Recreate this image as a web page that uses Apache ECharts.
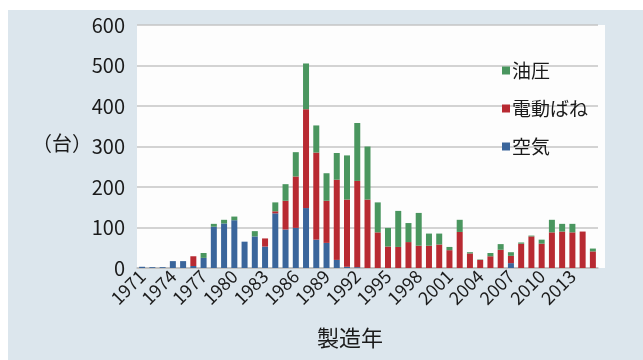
<!DOCTYPE html>
<html>
<head>
<meta charset="utf-8">
<script src="https://cdn.jsdelivr.net/npm/echarts@6/dist/echarts.min.js"></script>
<style>
  html, body { margin: 0; padding: 0; background: #fff; }
  #main { width: 643px; height: 360px; }
</style>
</head>
<body>
<div id="main"></div>
<script>
// 製造年 1971〜2015
const years = []
for (let y = 1971; y <= 2015; y++) years.push(String(y))

// 空気
const airData = [3, 2, 2, 17, 17, 5, 25, 102, 110, 118, 65, 78, 53, 135, 95, 99, 148, 70, 62, 20, 3, 2, 0, 0, 0, 0, 0, 0, 0, 0, 0, 0, 0, 0, 0, 0, 12, 0, 0, 0, 0, 0, 0, 0, 0]
// 電動ばね
const springData = [0, 0, 0, 0, 0, 24, 0, 0, 0, 0, 0, 0, 20, 5, 71, 127, 244, 215, 104, 198, 166, 213, 169, 88, 53, 52, 64, 55, 55, 58, 44, 89, 36, 20, 29, 45, 18, 60, 78, 60, 88, 90, 88, 90, 41]
// 油圧
const hydroData = [0, 0, 0, 0, 0, 0, 12, 7, 9, 9, 0, 13, 0, 22, 41, 60, 113, 67, 68, 66, 109, 143, 131, 74, 46, 89, 47, 81, 30, 27, 8, 30, 3, 1, 8, 14, 9, 3, 2, 10, 31, 19, 21, 0, 7]

const colors = { air: '#3a659b', spring: '#b82a32', hydro: '#4a965f' }
const fontFamily = '"Noto Sans CJK JP", "Noto Sans", sans-serif'

const myChart = echarts.init(document.getElementById('main'))

const option = {
  backgroundColor: '#ffffff',
  animation: false,
  textStyle: { fontFamily: fontFamily },
  graphic: [
    {
      type: 'rect',
      z: -100,
      silent: true,
      shape: { x: 8, y: 10, width: 640, height: 355 },
      style: { fill: '#dce6ed' }
    },
    {
      type: 'rect',
      z: -90,
      silent: true,
      shape: { x: 137, y: 25, width: 468, height: 243 },
      style: { fill: '#fdfdfd' }
    },
    {
      type: 'text',
      left: 32,
      top: 133,
      style: { text: '（台）', fontSize: 20, fill: '#1a1a1a', fontFamily: fontFamily }
    },
    {
      type: 'text',
      left: 317,
      top: 327,
      style: { text: '製造年', fontSize: 22, fill: '#1a1a1a', fontFamily: fontFamily }
    }
  ],
  legend: {
    orient: 'vertical',
    left: 497,
    top: 56,
    icon: 'rect',
    itemWidth: 8,
    itemHeight: 8,
    itemGap: 19,
    data: ['油圧', '電動ばね', '空気'],
    textStyle: { fontSize: 19, color: '#1a1a1a', padding: [0, 0, 0, -3] }
  },
  grid: {
    left: 137,
    right: 45,
    top: 25,
    bottom: 92,
    containLabel: false
  },
  xAxis: {
    type: 'category',
    data: years,
    axisLine: { lineStyle: { color: '#bdbdbd', width: 1.5 } },
    axisTick: { show: false },
    axisLabel: {
      interval: 2,
      rotate: 45,
      fontSize: 18,
      color: '#1a1a1a',
      margin: 5
    }
  },
  yAxis: {
    type: 'value',
    min: 0,
    max: 600,
    interval: 100,
    axisLine: { show: false },
    axisTick: { show: false },
    axisLabel: { fontSize: 20, color: '#1a1a1a', margin: 12 },
    splitLine: { lineStyle: { color: '#c4c4c4', width: 1.5 } }
  },
  series: [
    {
      name: '空気',
      type: 'bar',
      stack: 'total',
      barWidth: 6,
      itemStyle: { color: colors.air },
      data: airData
    },
    {
      name: '電動ばね',
      type: 'bar',
      stack: 'total',
      barWidth: 6,
      itemStyle: { color: colors.spring },
      data: springData
    },
    {
      name: '油圧',
      type: 'bar',
      stack: 'total',
      barWidth: 6,
      itemStyle: { color: colors.hydro },
      data: hydroData
    }
  ]
}

myChart.setOption(option)
window.addEventListener('resize', () => {
  myChart.resize()
}, false)
</script>
</body>
</html>
